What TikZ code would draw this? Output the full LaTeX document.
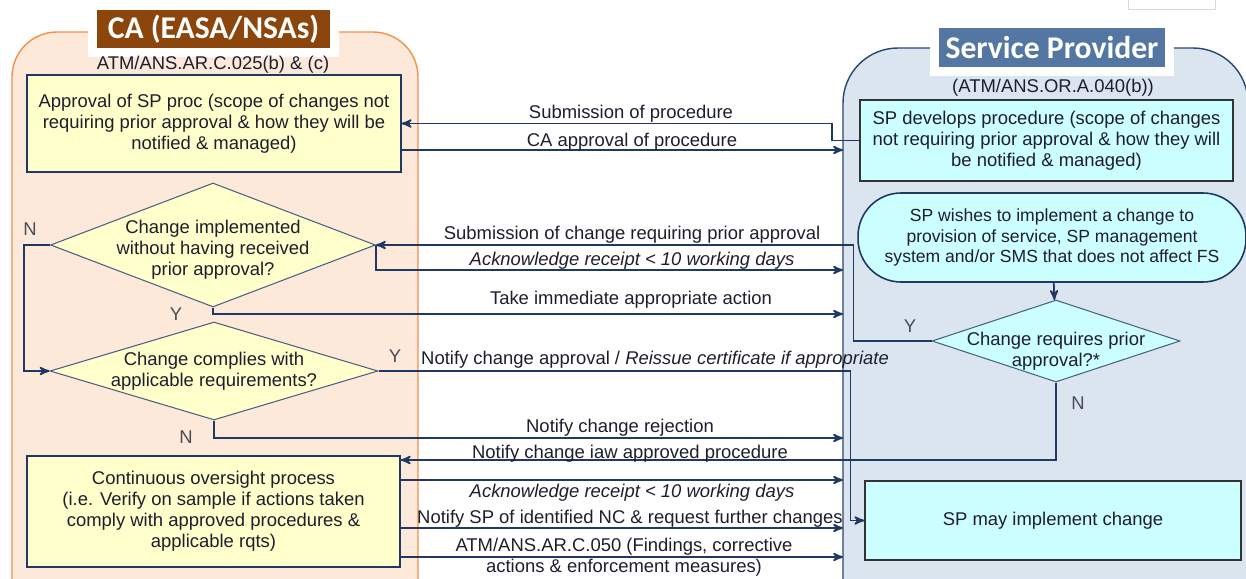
\documentclass[tikz,border=0pt]{standalone}
\usepackage{fontspec}
\setmainfont{Liberation Sans}
\newfontfamily\titlefont{Carlito}
\usetikzlibrary{positioning,arrows,calc,shapes.geometric}
\definecolor{colorcapanel}  {RGB}{253,233,217}
\definecolor{colorcaedge}   {RGB}{242,145,75}
\definecolor{colorcatitle}  {RGB}{140,70,12}
\definecolor{colorsppanel}  {RGB}{219,229,239}
\definecolor{colorspedge}   {RGB}{40,70,115}
\definecolor{colorsptitle}  {RGB}{84,118,162}
\definecolor{colorproc}     {RGB}{255,255,204}
\definecolor{colorsp}       {RGB}{204,255,255}
\definecolor{colorline}     {RGB}{31,56,100}
\definecolor{colortext}     {RGB}{30,30,45}

\begin{document}
\begin{tikzpicture}[
    x=0.02cm, y=-0.02cm, >=stealth',
    font={\fontsize{10.5}{12}\selectfont},
    title/.style={text=white,font={\titlefont\bfseries\fontsize{18}{20}\selectfont},draw=white,line width=5pt,inner sep=0pt},
    sub/.style={text=colortext,inner sep=1pt},
    lbl/.style={text=colortext,inner sep=1pt,align=center},
    yn/.style={text=colortext!80,inner sep=1pt},
    procbox/.style={text=colortext,draw=colorline,line width=0.9pt,fill=colorproc,align=center,inner sep=0pt},
    spbox/.style={text=colortext,draw=black!80,line width=0.9pt,fill=colorsp,align=center,inner sep=0pt},
    decision/.style={diamond,draw=colorline!80,line width=0.6pt,fill=colorproc,inner sep=0pt},
    link/.style={draw=colorline,line width=1pt},
]
    \useasboundingbox (0,0) rectangle (1246,578);
    \clip (0,0) rectangle (1246,578);

    % Panels
    \draw[fill=colorcapanel,draw=colorcaedge,line width=0.8pt,rounded corners=0.9cm] (12,32) rectangle (418,660);
    \draw[fill=colorsppanel,draw=colorspedge,line width=0.8pt,rounded corners=1.1cm] (843,48) rectangle (1248,660);
    \draw[draw=black!15,fill=white] (1128,-5) rectangle (1215,9);

    \node[title,fill=colorcatitle,minimum width=4.84cm,minimum height=0.94cm] (catitle) at (213.5,29) {CA (EASA/NSAs)};
    \node[title,fill=colorsptitle,minimum width=4.69cm,minimum height=0.95cm] (sptitle) at (1052,47.5) {Service Provider};
    \node[sub] (casub) at (213,65) {ATM/ANS.AR.C.025(b) \& (c)};
    \node[sub] (spsub) at (1053,88) {(ATM/ANS.OR.A.040(b))};

    % CA side
    \node[procbox,minimum width=7.48cm,minimum height=1.94cm] (approve) at (214,123.5)
        {Approval of SP proc (scope of changes not\\requiring prior approval \& how they will be\\notified \& managed)};
    \node[decision,minimum width=6.5cm,minimum height=2.48cm,
        label={[align=center,text=colortext,yshift=-0.1cm]center:Change implemented\\without having received\\prior approval?}] (implnoappr) at (213,245) {};
    \node[decision,minimum width=6.56cm,minimum height=1.96cm,
        label={[align=center,text=colortext]center:Change complies with\\applicable requirements?}] (complies) at (214,371) {};
    \node[procbox,minimum width=7.46cm,minimum height=2.22cm] (oversight) at (213.5,511.5)
        {Continuous oversight process\\(i.e. Verify on sample if actions taken\\comply with approved procedures \&\\applicable rqts)};

    % SP side
    \node[spbox,minimum width=7.46cm,minimum height=1.62cm] (develop) at (1046.5,140.5)
        {SP develops procedure (scope of changes\\not requiring prior approval \& how they will\\be notified \& managed)};
    \node[spbox,draw=colorline,rounded corners=0.86cm,minimum width=7.76cm,minimum height=1.78cm,
        font={\fontsize{10}{11.5}\selectfont}] (wishes) at (1052,237.5)
        {SP wishes to implement a change to\\provision of service, SP management\\system and/or SMS that does not affect FS};
    \node[decision,fill=colorsp,minimum width=4.96cm,minimum height=1.64cm,
        label={[align=center,text=colortext,yshift=-0.2cm]center:Change requires prior\\approval?*}] (reqappr) at (1056,341) {};
    \node[spbox,minimum width=7.52cm,minimum height=1.58cm] (mayimpl) at (1053,520.5) {SP may implement change};

    % Free ends on the SP panel edge
    \foreach \nm/\yy in {ca/150,ack/270,act/314,rej/438,ovs/480,nc/528,enf/557}
        \coordinate (in\nm) at (843,\yy);

    % Connectors
    \draw[link,->] (develop.west) -- ++(-27,0) |- (approve.east);
    \draw[link,->] (approve.east |- inca) -- (inca);
    \draw[link,->] (reqappr.west) -- ++(-78,0) |- (implnoappr.east);
    \draw[link,->] (implnoappr.east) |- (inack);
    \draw[link,->] (implnoappr.south) |- (inact);
    \draw[link,->] (implnoappr.west) -- ++(-26,0) |- (complies.west);
    \draw[link,->] (complies.east) -- ++(472,0) |- (mayimpl.west);
    \draw[link,->] (complies.south) |- (inrej);
    \draw[link,->] (reqappr.south) |- (oversight.east |- 0,460);
    \draw[link,->] (oversight.east |- inovs) -- (inovs);
    \draw[link,->] (oversight.east |- innc) -- (innc);
    \draw[link,->] (oversight.east |- inenf) -- (inenf);
    \draw[link,->] (wishes) -- (reqappr);

    % Labels
    \node[lbl] (lsubproc) at (631,114) {Submission of procedure};
    \node[lbl] (lcaappr)  at (632,142) {CA approval of procedure};
    \node[lbl] (lsubchg)  at (632,235) {Submission of change requiring prior approval};
    \node[lbl] (lack)     at (632,261) {\textit{Acknowledge receipt < 10 working days}};
    \node[lbl] (lact)     at (631,300) {Take immediate appropriate action};
    \node[lbl] (lnotappr) at (655,360) {Notify change approval / \textit{Reissue certificate if appropriate}};
    \node[lbl] (lrej)     at (620,428) {Notify change rejection};
    \node[lbl] (liaw)     at (630,454) {Notify change iaw approved procedure};
    \node[lbl] (lackovs)  at (632,493) {\textit{Acknowledge receipt < 10 working days}};
    \node[lbl] (lnc)      at (630,519) {Notify SP of identified NC \& request further changes};
    \node[lbl] (lenf)     at (624,557) {ATM/ANS.AR.C.050 (Findings, corrective\\actions \& enforcement measures)};

    \node[yn] (n1) at (30,229)   {N};
    \node[yn] (y1) at (176,314)  {Y};
    \node[yn] (y2) at (395,356)  {Y};
    \node[yn] (n2) at (186,437)  {N};
    \node[yn] (y3) at (910,326)  {Y};
    \node[yn] (n3) at (1078,403) {N};

\end{tikzpicture}
\end{document}
